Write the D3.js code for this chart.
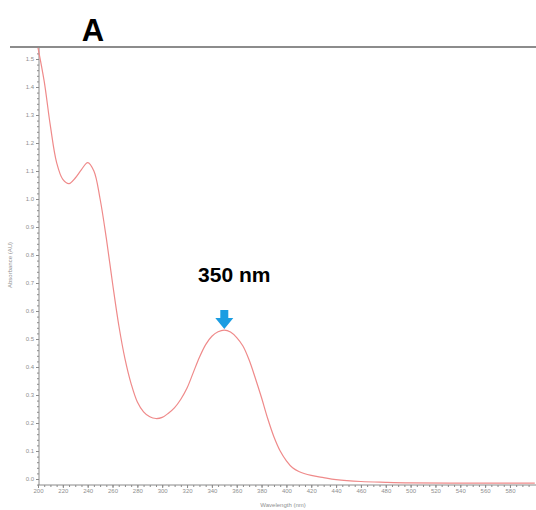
<!DOCTYPE html>
<html lang="en">
    <head>
        <meta charset="utf-8">
        <title>UV-Vis Spectrum A</title>
        <script src="https://d3js.org/d3.v7.min.js"></script>
        <style type="text/css">
            body { margin: 0; background: #fff; }
            .axis path, .axis line { stroke: #8a8a8a; }
            .axis text { fill: #8f8f8f; font-family: "Liberation Sans", Arial, sans-serif; font-size: 6px; }
        </style>
    </head>
    <body>
        <script type="text/javascript">

            const w = 536;
            const h = 510;

            // spectrum
            const wavelengths = [200, 205, 210, 215, 220, 225, 230, 235, 240, 245, 250, 255, 260, 265, 270, 275, 280, 285, 290, 295,
                                 300, 305, 310, 315, 320, 325, 330, 335, 340, 345, 350, 355, 360, 365, 370, 375, 380, 385, 390, 395,
                                 400, 405, 410, 420, 430, 440, 460, 480, 500, 550, 600];
            const absorbance = [1.54, 1.42, 1.26, 1.13, 1.07, 1.055, 1.075, 1.105, 1.13, 1.10, 1.00, 0.86, 0.70, 0.55, 0.43, 0.34, 0.275, 0.24, 0.222, 0.216,
                                0.22, 0.235, 0.255, 0.285, 0.325, 0.38, 0.435, 0.48, 0.51, 0.526, 0.532, 0.525, 0.505, 0.475, 0.425, 0.36, 0.29, 0.215, 0.15, 0.10,
                                0.065, 0.04, 0.027, 0.013, 0.005, -0.002, -0.009, -0.012, -0.014, -0.015, -0.015];

            const xTicks = d3.range(200, 600, 20);
            const yTicks = d3.range(0, 16).map(d => d / 10);
            const peakNm = 350;
            const peakLabel = "350 nm";
            const panelLabel = "A";

            const data = wavelengths.map((d, i) => ({nm: d, a: absorbance[i]}));

            const xScale = d3.scaleLinear()
                             .domain([200, 600])
                             .range([38, 534.8]);

            const yScale = d3.scaleLinear()
                             .domain([0, 1.5])
                             .range([479, 59]);

            const svg = d3.select("body")
                          .append("svg")
                          .attr("width", w)
                          .attr("height", h);

            // top frame line
            svg.append("line")
               .attr("x1", 10).attr("x2", w)
               .attr("y1", 47).attr("y2", 47)
               .attr("stroke", "#8c8c8c")
               .attr("stroke-width", 2);

            // minor ticks
            svg.append("g")
               .attr("class", "axis")
               .attr("transform", "translate(39,0)")
               .call(d3.axisLeft(yScale).tickValues(d3.range(-0.02, 1.54, 0.02)).tickSize(2).tickFormat(""))
               .select(".domain").remove();

            svg.append("g")
               .attr("class", "axis")
               .attr("transform", "translate(0,485)")
               .call(d3.axisBottom(xScale).tickValues(d3.range(200, 600, 5)).tickSize(2).tickFormat(""))
               .select(".domain").remove();

            // major axes
            const leftAxis = d3.axisLeft(yScale)
                               .tickValues(yTicks)
                               .tickSize(3)
                               .tickPadding(2)
                               .tickFormat(d3.format(".1f"));

            svg.append("g")
               .attr("class", "axis")
               .attr("transform", "translate(39,0)")
               .call(leftAxis)
               .select(".domain").remove();

            const bottomAxis = d3.axisBottom(xScale)
                                 .tickValues(xTicks)
                                 .tickSize(3)
                                 .tickPadding(1)
                                 .tickFormat(d3.format("d"));

            svg.append("g")
               .attr("class", "axis")
               .attr("transform", "translate(0,485)")
               .call(bottomAxis)
               .select(".domain").remove();

            svg.append("line")
               .attr("x1", 39).attr("x2", 39)
               .attr("y1", 47).attr("y2", 485)
               .attr("stroke", "#8a8a8a");

            svg.append("line")
               .attr("x1", 38).attr("x2", w)
               .attr("y1", 485).attr("y2", 485)
               .attr("stroke", "#8a8a8a");

            // axis titles
            svg.append("text")
               .attr("x", 283).attr("y", 507)
               .attr("text-anchor", "middle")
               .style("font-family", "Liberation Sans, Arial, sans-serif")
               .style("font-size", "6px")
               .style("fill", "#8f8f8f")
               .text("Wavelength (nm)");

            svg.append("text")
               .attr("transform", "translate(12,265) rotate(-90)")
               .attr("text-anchor", "middle")
               .style("font-family", "Liberation Sans, Arial, sans-serif")
               .style("font-size", "6px")
               .style("fill", "#8f8f8f")
               .text("Absorbance (AU)");

            // spectrum
            const line = d3.line()
                           .x(d => xScale(d.nm))
                           .y(d => yScale(d.a))
                           .curve(d3.curveCatmullRom.alpha(0.5));

            svg.append("path")
               .datum(data)
               .attr("fill", "none")
               .attr("stroke", "#ef8a8a")
               .attr("stroke-width", 1.2)
               .attr("d", line);

            // panel letter
            svg.append("text")
               .attr("x", 93).attr("y", 41)
               .attr("text-anchor", "middle")
               .style("font-family", "Liberation Sans, Arial, sans-serif")
               .style("font-weight", "bold")
               .style("font-size", "31px")
               .style("fill", "#000")
               .text(panelLabel);

            // peak annotation
            const peak = data.find(d => d.nm === peakNm);
            const px = xScale(peak.nm);
            const py = yScale(peak.a);

            svg.append("text")
               .attr("x", px + 10).attr("y", 282)
               .attr("text-anchor", "middle")
               .style("font-family", "Liberation Sans, Arial, sans-serif")
               .style("font-weight", "bold")
               .style("font-size", "21px")
               .style("fill", "#000")
               .text(peakLabel);

            svg.append("path")
               .attr("d", `M${px - 4},${py - 20} h8 v8 h5 L${px},${py - 1} L${px - 9},${py - 12} h5 Z`)
               .attr("fill", "#1b9de2");

        </script>
    </body>
</html>
